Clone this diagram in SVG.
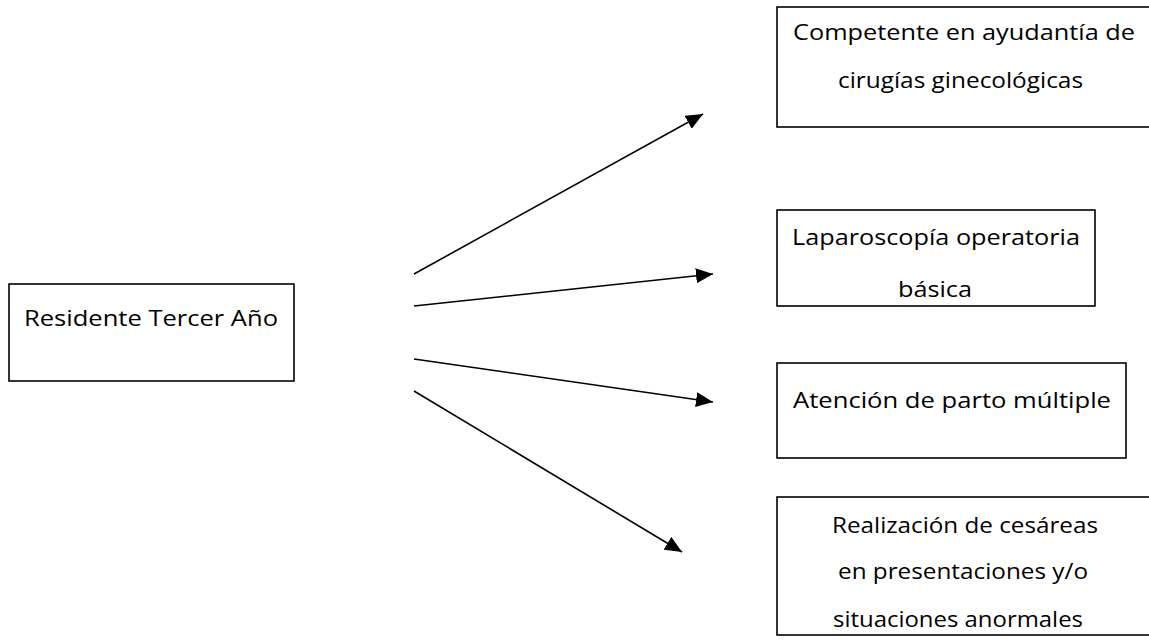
<svg xmlns="http://www.w3.org/2000/svg" width="1149" height="640" viewBox="0 0 1149 640">
<defs>
<marker id="ah" markerUnits="userSpaceOnUse" markerWidth="18" markerHeight="15" refX="17" refY="7.5" orient="auto">
<path d="M0,0 L17,7.5 L0,15 z" fill="#000"/>
</marker>
<style>
.box{fill:#fff;stroke:#000;stroke-width:1.6}
.t{font-family:"Open Sans","Liberation Sans",sans-serif;font-size:22px;fill:#000}
.c{stroke:#000;stroke-width:1.6;fill:none;marker-end:url(#ah)}
</style>
</defs>
<rect width="1149" height="640" fill="#fff"/>
<g id="connectors">
<line class="c" x1="414" y1="274" x2="703" y2="114"/>
<line class="c" x1="414" y1="306" x2="713" y2="274"/>
<line class="c" x1="414" y1="359" x2="713" y2="402"/>
<line class="c" x1="414" y1="391" x2="682" y2="552"/>
</g>
<g id="n0">
<rect class="box" x="9" y="284" width="285" height="97"/>
<text class="t" x="24" y="326" textLength="254" lengthAdjust="spacingAndGlyphs">Residente Tercer Año</text>
</g>
<g id="n1">
<rect class="box" x="777" y="7" width="380" height="120"/>
<text class="t" x="793" y="40" textLength="342" lengthAdjust="spacingAndGlyphs">Competente en ayudantía de</text>
<text class="t" x="838" y="88" textLength="245" lengthAdjust="spacingAndGlyphs">cirugías ginecológicas</text>
</g>
<g id="n2">
<rect class="box" x="777" y="210" width="318" height="96"/>
<text class="t" x="792" y="245" textLength="288" lengthAdjust="spacingAndGlyphs">Laparoscopía operatoria</text>
<text class="t" x="898" y="297" textLength="74" lengthAdjust="spacingAndGlyphs">básica</text>
</g>
<g id="n3">
<rect class="box" x="777" y="363" width="349" height="95"/>
<text class="t" x="793" y="408" textLength="318" lengthAdjust="spacingAndGlyphs">Atención de parto múltiple</text>
</g>
<g id="n4">
<rect class="box" x="777" y="497" width="380" height="138"/>
<text class="t" x="832" y="533" textLength="266" lengthAdjust="spacingAndGlyphs">Realización de cesáreas</text>
<text class="t" x="838" y="579" textLength="250" lengthAdjust="spacingAndGlyphs">en presentaciones y/o</text>
<text class="t" x="833" y="627" textLength="250" lengthAdjust="spacingAndGlyphs">situaciones anormales</text>
</g>
</svg>
